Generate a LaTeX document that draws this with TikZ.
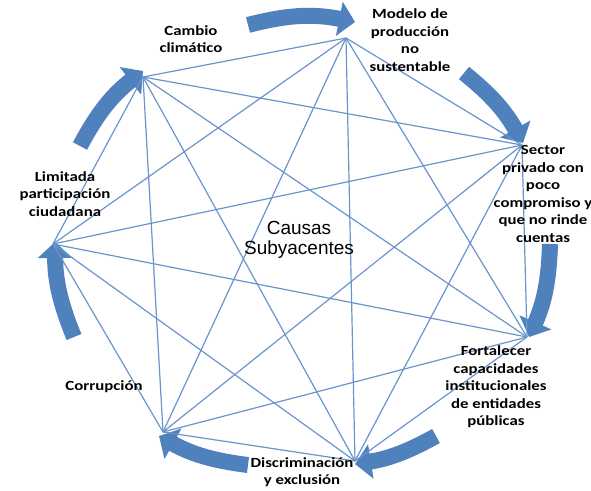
\documentclass[tikz,border=0pt]{standalone}
\usepackage{fontspec}
\setmainfont{Carlito}
\newfontfamily\labfont[FakeStretch=1.2]{Carlito}
\newfontfamily\cfont{Liberation Sans}
\usetikzlibrary{arrows.meta}
\definecolor{linkblue}{RGB}{105,148,204}
\definecolor{arrblue}{RGB}{79,129,189}
\begin{document}
\begin{tikzpicture}[x=1pt,y=-1pt,
  link/.style={draw=linkblue, line width=1.2pt},
  cyc/.style={draw=arrblue, line width=16pt, -{Triangle[width=34pt,length=16pt]}},
  lab/.style={font=\labfont\bfseries\fontsize{14}{17.5}\selectfont, align=center, text=black, inner sep=0pt},
  ctr/.style={font=\cfont\fontsize{19}{20}\selectfont, align=center, text=black, inner sep=0pt}]
\useasboundingbox (0,0) rectangle (591,490);
% vertices
\coordinate (A) at (143,77);
\coordinate (B) at (346,38);
\coordinate (C) at (522,145);
\coordinate (D) at (527,337);
\coordinate (E) at (355,461);
\coordinate (F) at (163,432);
\coordinate (G) at (53,244);
% cycle arrows
\coordinate (a1s) at (248,25);  \coordinate (a1e) at (355,22);
\coordinate (a2s) at (464,73);  \coordinate (a2e) at (523,143);
\coordinate (a3s) at (550,244); \coordinate (a3e) at (529,337);
\coordinate (a4s) at (436,436); \coordinate (a4e) at (355,464);
\coordinate (a5s) at (248,465); \coordinate (a5e) at (159,436);
\coordinate (a6s) at (74,337);  \coordinate (a6e) at (55,242);
\coordinate (a7s) at (80,146);  \coordinate (a7e) at (143,71);
\draw[cyc] (a1s) to[bend left=13] (a1e);
\draw[cyc] (a2s) to[bend left=11] (a2e);
\draw[cyc] (a3s) to[bend left=11] (a3e);
\draw[cyc] (a4s) to[bend left=10] (a4e);
\draw[cyc] (a5s) to[bend left=11] (a5e);
\draw[cyc] (a6s) to[bend left=11] (a6e);
\draw[cyc] (a7s) to[bend left=12] (a7e);
% links
\foreach \p/\q in {A/B,A/C,A/D,A/E,A/F,A/G,B/C,B/D,B/E,B/F,B/G,C/D,C/E,C/F,C/G,D/E,D/F,D/G,E/F,E/G,F/G}
  \draw[link] (\p) -- (\q);
% labels
\node[lab] (lA) at (191,39) {Cambio\\climático};
\node[lab] (lB) at (410,40) {Modelo de\\producción\\no\\sustentable};
\node[lab] (lC) at (543,194) {Sector\\privado con\\poco\\compromiso y\\que no rinde\\cuentas};
\node[lab] (lD) at (496,387) {Fortalecer\\capacidades\\institucionales\\de entidades\\públicas};
\node[lab] (lE) at (302,472) {Discriminación\\y exclusión};
\node[lab] (lF) at (104,387) {Corrupción};
\node[lab] (lG) at (65,194) {Limitada\\participación\\ciudadana};
\node[ctr] (mid) at (299,240) {Causas\\Subyacentes};
\end{tikzpicture}
\end{document}
